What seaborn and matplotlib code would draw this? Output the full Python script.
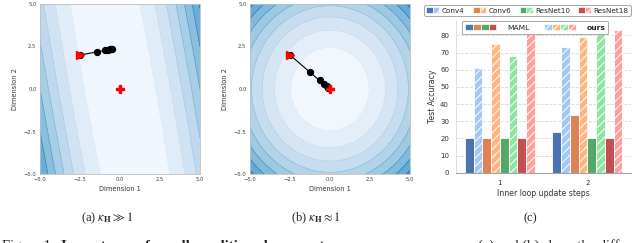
import numpy as np
import pandas as pd
import matplotlib
matplotlib.use("Agg")
import matplotlib.pyplot as plt
from matplotlib.patches import Patch
from matplotlib.legend_handler import HandlerTuple
import seaborn as sns

# ---- panels (a) and (b): gradient descent paths on quadratic losses ----
path_a_x = [-2.5, -1.45, -0.95, -0.75, -0.62, -0.55, -0.5]
path_a_y = [2.0, 2.18, 2.27, 2.31, 2.33, 2.34, 2.35]
path_b_x = [-2.5, -1.27, -0.65, -0.36, -0.2, -0.1]
path_b_y = [2.0, 1.0, 0.5, 0.27, 0.15, 0.08]
optimum = [0.0, 0.0]

# Hessians of the two loss surfaces
hess_a = [[1.0004, 0.1881], [0.1881, 0.0461]]   # ill-conditioned
hess_b = [[1.0, 0.0], [0.0, 1.0]]               # well-conditioned
levels_a = [0, 5, 10, 15, 20, 25, 30, 35, 40]
levels_b = [0, 6, 12, 18, 24, 30, 36, 42, 48, 54]
dim_ticks = [-5.0, -2.5, 0.0, 2.5, 5.0]

# ---- panel (c): test accuracy ----
steps = ["1", "2"]
models = ["Conv4", "Conv6", "ResNet10", "ResNet18"]
maml_step1 = [20, 20, 20, 20]
ours_step1 = [61.3, 75.2, 68.3, 81.4]
maml_step2 = [23.8, 33.7, 20, 20.3]
ours_step2 = [73.0, 78.9, 81.4, 83.4]
acc_ticks = [0, 10, 20, 30, 40, 50, 60, 70, 80]

sns.set_theme(style="whitegrid")
plt.rcParams["font.family"] = ["DejaVu Sans"]
plt.rcParams["mathtext.fontset"] = "stix"
plt.rcParams["hatch.color"] = "white"
plt.rcParams["hatch.linewidth"] = 0.7

W, H = 640, 243
fig = plt.figure(figsize=(W / 100, H / 100), dpi=100)


def px_axes(left, top, right, bottom):
    return fig.add_axes([left / W, 1 - bottom / H, (right - left) / W, (bottom - top) / H])


def loss_panel(ax, hess, levels, px, py):
    g = np.linspace(-5, 5, 300)
    X, Y = np.meshgrid(g, g)
    h = np.array(hess)
    Z = h[0, 0] * X ** 2 + 2 * h[0, 1] * X * Y + h[1, 1] * Y ** 2
    ax.contourf(X, Y, Z, levels=levels, cmap="Blues", vmin=0, vmax=levels[-1] / 0.62)
    ax.contour(X, Y, Z, levels=levels, cmap="Blues", vmin=0, vmax=levels[-1] * 1.05,
               linewidths=0.5, alpha=0.8)
    sns.lineplot(x=px, y=py, sort=False, color="black", lw=0.8, marker="o",
                 markersize=4.5, markeredgecolor="black", ax=ax, zorder=3)
    ax.plot(px[0], py[0], marker=">", color="red", markersize=6, zorder=4, ls="none")
    ax.plot(optimum[0], optimum[1], marker="P", color="red", markersize=6, zorder=4, ls="none")
    ax.set_xlim(-5, 5)
    ax.set_ylim(-5, 5)
    ax.grid(False)
    ax.set_xticks(dim_ticks)
    ax.set_yticks(dim_ticks)
    ax.tick_params(labelsize=3.8, pad=2.5, colors="0.25", length=0)
    ax.set_xlabel("Dimension 1", fontsize=4.8, color="0.2")
    ax.set_ylabel("Dimension 2", fontsize=4.8, color="0.2")
    ax.xaxis.set_label_coords(0.5, -0.072)
    ax.yaxis.set_label_coords(-0.14, 0.5)
    for s in ax.spines.values():
        s.set_color("0.75")
        s.set_linewidth(0.6)


ax_a = px_axes(40, 4, 200, 174)
loss_panel(ax_a, hess_a, levels_a, path_a_x, path_a_y)
ax_b = px_axes(250, 4, 410, 174)
loss_panel(ax_b, hess_b, levels_b, path_b_x, path_b_y)

# ---- bar chart ----
deep = sns.color_palette("deep")
pastel = sns.color_palette("pastel")
keys, pal, rows = [], {}, []
for i, m in enumerate(models):
    for kind, col in (("MAML", deep[i]), ("ours", pastel[i])):
        k = f"{m} {kind}"
        keys.append(k)
        pal[k] = col
for step, maml, ours in ((steps[0], maml_step1, ours_step1), (steps[1], maml_step2, ours_step2)):
    for i, m in enumerate(models):
        rows.append({"step": step, "key": f"{m} MAML", "acc": maml[i]})
        rows.append({"step": step, "key": f"{m} ours", "acc": ours[i]})
df = pd.DataFrame(rows)

ax_c = px_axes(456, 20, 631, 172.7)
sns.barplot(data=df, x="step", y="acc", hue="key", hue_order=keys, palette=pal,
            saturation=1, width=0.8, legend=False, ax=ax_c)
for key, cont in zip(keys, ax_c.containers):
    for bar in cont:
        bar.set_edgecolor("white")
        bar.set_linewidth(0.6)
        if key.endswith("ours"):
            bar.set_hatch("////")
ax_c.set_ylim(0, 89)
ax_c.set_xlim(-0.5, 1.5)
ax_c.set_yticks(acc_ticks)
ax_c.yaxis.grid(True, linestyle="--", color="0.85", linewidth=0.6)
ax_c.xaxis.grid(False)
sns.despine(ax=ax_c)
ax_c.spines["left"].set_color("0.85")
ax_c.spines["bottom"].set_color("0.65")
ax_c.spines["left"].set_linewidth(0.6)
ax_c.spines["bottom"].set_linewidth(0.8)
ax_c.tick_params(labelsize=5, pad=5, colors="0.2", length=0)
ax_c.set_xlabel("Inner loop update steps", fontsize=5.6, color="0.2")
ax_c.set_ylabel("Test Accuracy", fontsize=5.6, color="0.2")
ax_c.xaxis.set_label_coords(0.5, -0.105)
ax_c.yaxis.set_label_coords(-0.11, 0.5)

solid = [Patch(facecolor=deep[i], edgecolor="white", linewidth=0.5) for i in range(4)]
hatched = [Patch(facecolor=pastel[i], edgecolor="white", linewidth=0.5, hatch="////")
           for i in range(4)]
hmap = {tuple: HandlerTuple(ndivide=None, pad=0.0)}

leg1 = fig.legend(handles=[(solid[i], hatched[i]) for i in range(4)], labels=models,
                  handler_map=hmap, loc="upper center", bbox_to_anchor=(527.5 / W, 1 - 1.5 / H),
                  ncol=4, fontsize=5.2, handlelength=1.8, handleheight=0.9,
                  handletextpad=0.3, columnspacing=1.2, borderpad=0.3,
                  frameon=True, fancybox=True, edgecolor="0.6", framealpha=1)
leg1.get_frame().set_linewidth(0.6)

leg2 = ax_c.legend(handles=[tuple(solid), tuple(hatched)], labels=["MAML", "ours"],
                   handler_map=hmap, loc="upper center", bbox_to_anchor=(535 / W, 1 - 17 / H),
                   bbox_transform=fig.transFigure, ncol=2, fontsize=5.4, handlelength=4.2,
                   handleheight=0.9, handletextpad=1.4, columnspacing=2.0, borderpad=0.45,
                   frameon=True, fancybox=True, edgecolor="0.6", framealpha=1)
leg2.get_frame().set_linewidth(0.6)
leg2.get_texts()[1].set_fontweight("bold")

# ---- sub captions ----
serif = ["Liberation Serif", "DejaVu Serif"]
fig.text(107 / W, 1 - 218 / H, r"(a) $\kappa_{\mathbf{H}} \gg 1$", ha="center", va="center",
         fontsize=9, family=serif)
fig.text(316 / W, 1 - 218 / H, r"(b) $\kappa_{\mathbf{H}} \approx 1$", ha="center", va="center",
         fontsize=9, family=serif)
fig.text(530 / W, 1 - 218 / H, "(c)", ha="center", va="center", fontsize=9, family=serif)

# figure caption, clipped by the bottom edge as in the source page
fig.canvas.draw()
rend = fig.canvas.get_renderer()
base = -7.0 / H
t = fig.text(2 / W, base, "Figure 1. ", ha="left", va="baseline", fontsize=10.5, family=serif)
x = 2 + t.get_window_extent(rend).width + 3
fig.text(x / W, base, "Importance of a well-conditioned parameter space.", ha="left",
         va="baseline", fontsize=10.5, family=serif, fontweight="bold")
fig.text(478 / W, base, "(a) and (b) show the difference in", ha="left", va="baseline",
         fontsize=10.5, family=serif)

fig.savefig("out.png", dpi=100)
